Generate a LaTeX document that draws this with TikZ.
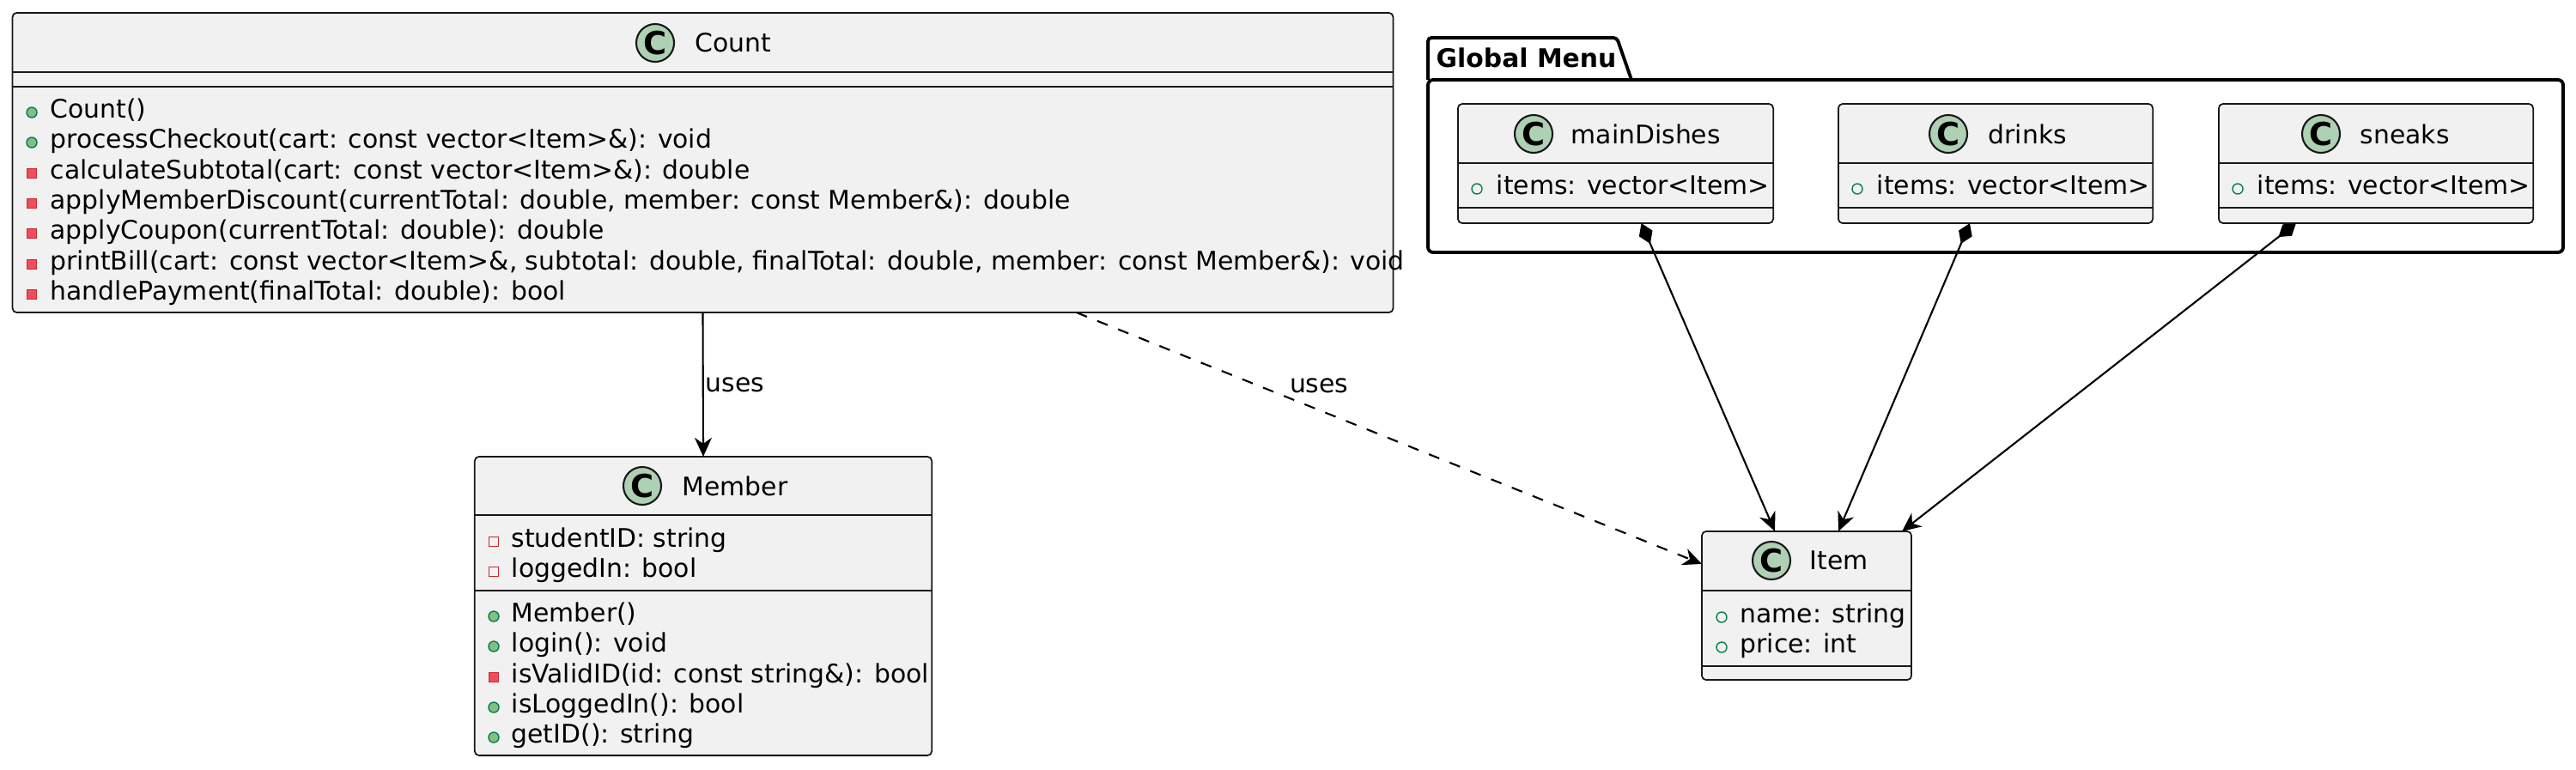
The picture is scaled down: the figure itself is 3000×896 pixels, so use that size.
\documentclass[tikz,border=0pt]{standalone}
\usepackage{fontspec}
\setmainfont{DejaVu Sans}
\usetikzlibrary{arrows.meta}
\definecolor{boxfill}{HTML}{F1F1F1}
\definecolor{boxline}{HTML}{181818}
\definecolor{spotfill}{HTML}{ADD1B2}
\definecolor{pubfill}{HTML}{84BE84}
\definecolor{publine}{HTML}{038048}
\definecolor{privfill}{HTML}{F24D5C}
\definecolor{privline}{HTML}{C82930}

\begin{document}
\begin{tikzpicture}[x=0.01cm, y=-0.01cm,
  every node/.style={font=\fontsize{8.48}{10}\selectfont},
  classbox/.style={draw=boxline, fill=boxfill, line width=0.5pt, rounded corners=0.05cm, inner sep=0pt, outer sep=0pt},
  divider/.style={draw=boxline, line width=0.5pt},
  spot/.style={circle, draw=boxline, fill=spotfill, line width=0.6pt, minimum size=0.44cm, inner sep=0pt, font=\fontsize{10.5}{10}\selectfont\bfseries},
  title/.style={anchor=west, inner sep=0pt},
  entry/.style={anchor=west, inner sep=0pt, text height=0.76em, text depth=0.24em},
  lbl/.style={anchor=west, inner sep=0pt},
  pubm/.style={draw=publine, fill=pubfill, line width=0.4pt},
  puba/.style={draw=publine, line width=0.4pt},
  privm/.style={draw=privline, fill=privfill, line width=0.4pt},
  priva/.style={draw=privline, line width=0.4pt},
  uses/.style={-{Stealth[length=0.22cm, width=0.2cm, inset=0.07cm]}, line width=0.6pt},
  dep/.style={uses, dash pattern=on 0.13cm off 0.13cm},
  comp/.style={{Diamond[length=0.26cm, width=0.17cm]}-{Stealth[length=0.22cm, width=0.2cm, inset=0.07cm]}, line width=0.6pt}]
  \useasboundingbox (0,0) rectangle (3000,896);

  % Count
  \node[classbox, minimum width=16.07cm, minimum height=3.49cm] (count) at (818.5,189.5) {};
  \node[spot] (countC) at (763,50) {C};
  \node[title] (countT) at (809,50) {Count};
  \draw[divider] (15,84) -- (1622,84) (15,101) -- (1622,101);
  \filldraw[pubm] (37,131) circle (0.06cm);
  \node[entry] (count-m1) at (58,128) {Count()};
  \filldraw[pubm] (37,166) circle (0.06cm);
  \node[entry] (count-m2) at (58,163) {processCheckout(cart: const vector<Item>\&): void};
  \filldraw[privm] (31.5,196.5) rectangle ++(11,11);
  \node[entry] (count-m3) at (58,199) {calculateSubtotal(cart: const vector<Item>\&): double};
  \filldraw[privm] (31.5,231.5) rectangle ++(11,11);
  \node[entry] (count-m4) at (58,234) {applyMemberDiscount(currentTotal: double, member: const Member\&): double};
  \filldraw[privm] (31.5,266.5) rectangle ++(11,11);
  \node[entry] (count-m5) at (58,269) {applyCoupon(currentTotal: double): double};
  \filldraw[privm] (31.5,302.5) rectangle ++(11,11);
  \node[entry] (count-m6) at (58,305) {printBill(cart: const vector<Item>\&, subtotal: double, finalTotal: double, member: const Member\&): void};
  \filldraw[privm] (31.5,337.5) rectangle ++(11,11);
  \node[entry] (count-m7) at (58,340) {handlePayment(finalTotal: double): bool};

  % Member
  \node[classbox, minimum width=5.32cm, minimum height=3.48cm] (member) at (819,706) {};
  \node[spot] (memberC) at (748,566) {C};
  \node[title] (memberT) at (794,566) {Member};
  \draw[divider] (553,600) -- (1085,600) (553,688) -- (1085,688);
  \draw[priva] (569.5,625.5) rectangle ++(11,11);
  \node[entry] (member-a1) at (595,628) {studentID: string};
  \draw[priva] (569.5,660.5) rectangle ++(11,11);
  \node[entry] (member-a2) at (595,663) {loggedIn: bool};
  \filldraw[pubm] (575,718) circle (0.06cm);
  \node[entry] (member-m1) at (595,715) {Member()};
  \filldraw[pubm] (575,753) circle (0.06cm);
  \node[entry] (member-m2) at (595,750) {login(): void};
  \filldraw[privm] (569.5,783.5) rectangle ++(11,11);
  \node[entry] (member-m3) at (595,786) {isValidID(id: const string\&): bool};
  \filldraw[pubm] (575,824) circle (0.06cm);
  \node[entry] (member-m4) at (595,821) {isLoggedIn(): bool};
  \filldraw[pubm] (575,859) circle (0.06cm);
  \node[entry] (member-m5) at (595,856) {getID(): string};

  % Item
  \node[classbox, minimum width=2.44cm, minimum height=1.73cm] (item) at (2104,705.5) {};
  \node[spot] (itemC) at (2063,653) {C};
  \node[title] (itemT) at (2107,653) {Item};
  \draw[divider] (1982,688) -- (2226,688) (1982,776) -- (2226,776);
  \draw[puba] (2005,719) circle (0.06cm);
  \node[entry] (item-a1) at (2026,716) {name: string};
  \draw[puba] (2005,754) circle (0.06cm);
  \node[entry] (item-a2) at (2026,751) {price: int};

  % package Global Menu
  \draw[line width=1.1pt, rounded corners=0.04cm] (1663,93) -- (1663,44) -- (1883,44) -- (1900,93);
  \draw[line width=1.1pt, rounded corners=0.06cm] (1663,93) rectangle (2985,294);
  \node[title, font=\fontsize{8.48}{10}\selectfont\bfseries] (menuT) at (1672,67) {Global Menu};

  \node[classbox, minimum width=3.67cm, minimum height=1.39cm] (mains) at (1881.5,190.5) {};
  \node[spot] (mainsC) at (1786,156) {C};
  \node[title] (mainsT) at (1829,156) {mainDishes};
  \draw[divider] (1698,190) -- (2065,190) (1698,242) -- (2065,242);
  \draw[puba] (1720,220) circle (0.06cm);
  \node[entry] (mains-a1) at (1742,217) {items: vector<Item>};

  \node[classbox, minimum width=3.66cm, minimum height=1.39cm] (drinks) at (2324,190.5) {};
  \node[spot] (drinksC) at (2269,156) {C};
  \node[title] (drinksT) at (2315,156) {drinks};
  \draw[divider] (2141,190) -- (2507,190) (2141,242) -- (2507,242);
  \draw[puba] (2163,220) circle (0.06cm);
  \node[entry] (drinks-a1) at (2185,217) {items: vector<Item>};

  \node[classbox, minimum width=3.66cm, minimum height=1.39cm] (sneaks) at (2767,190.5) {};
  \node[spot] (sneaksC) at (2703,156) {C};
  \node[title] (sneaksT) at (2748,156) {sneaks};
  \draw[divider] (2584,190) -- (2950,190) (2584,242) -- (2950,242);
  \draw[puba] (2606,220) circle (0.06cm);
  \node[entry] (sneaks-a1) at (2628,217) {items: vector<Item>};

  % relations
  \draw[uses] (count.south) -- (member.north) node[lbl, pos=0.5, xshift=0.02cm] (usesA) {uses};
  \draw[dep] ([xshift=4.35cm]count.south) -- ([yshift=0.485cm]item.west) node[lbl, pos=0.29, xshift=0.36cm] (usesB) {uses};
  \draw[comp] ([xshift=0.30cm]mains.south) -- ([xshift=-0.37cm]item.north);
  \draw[comp] ([xshift=-0.30cm]drinks.south) -- ([xshift=0.37cm]item.north);
  \draw[comp] ([xshift=-0.93cm]sneaks.south) -- ([xshift=1.11cm]item.north);
\end{tikzpicture}
\end{document}
